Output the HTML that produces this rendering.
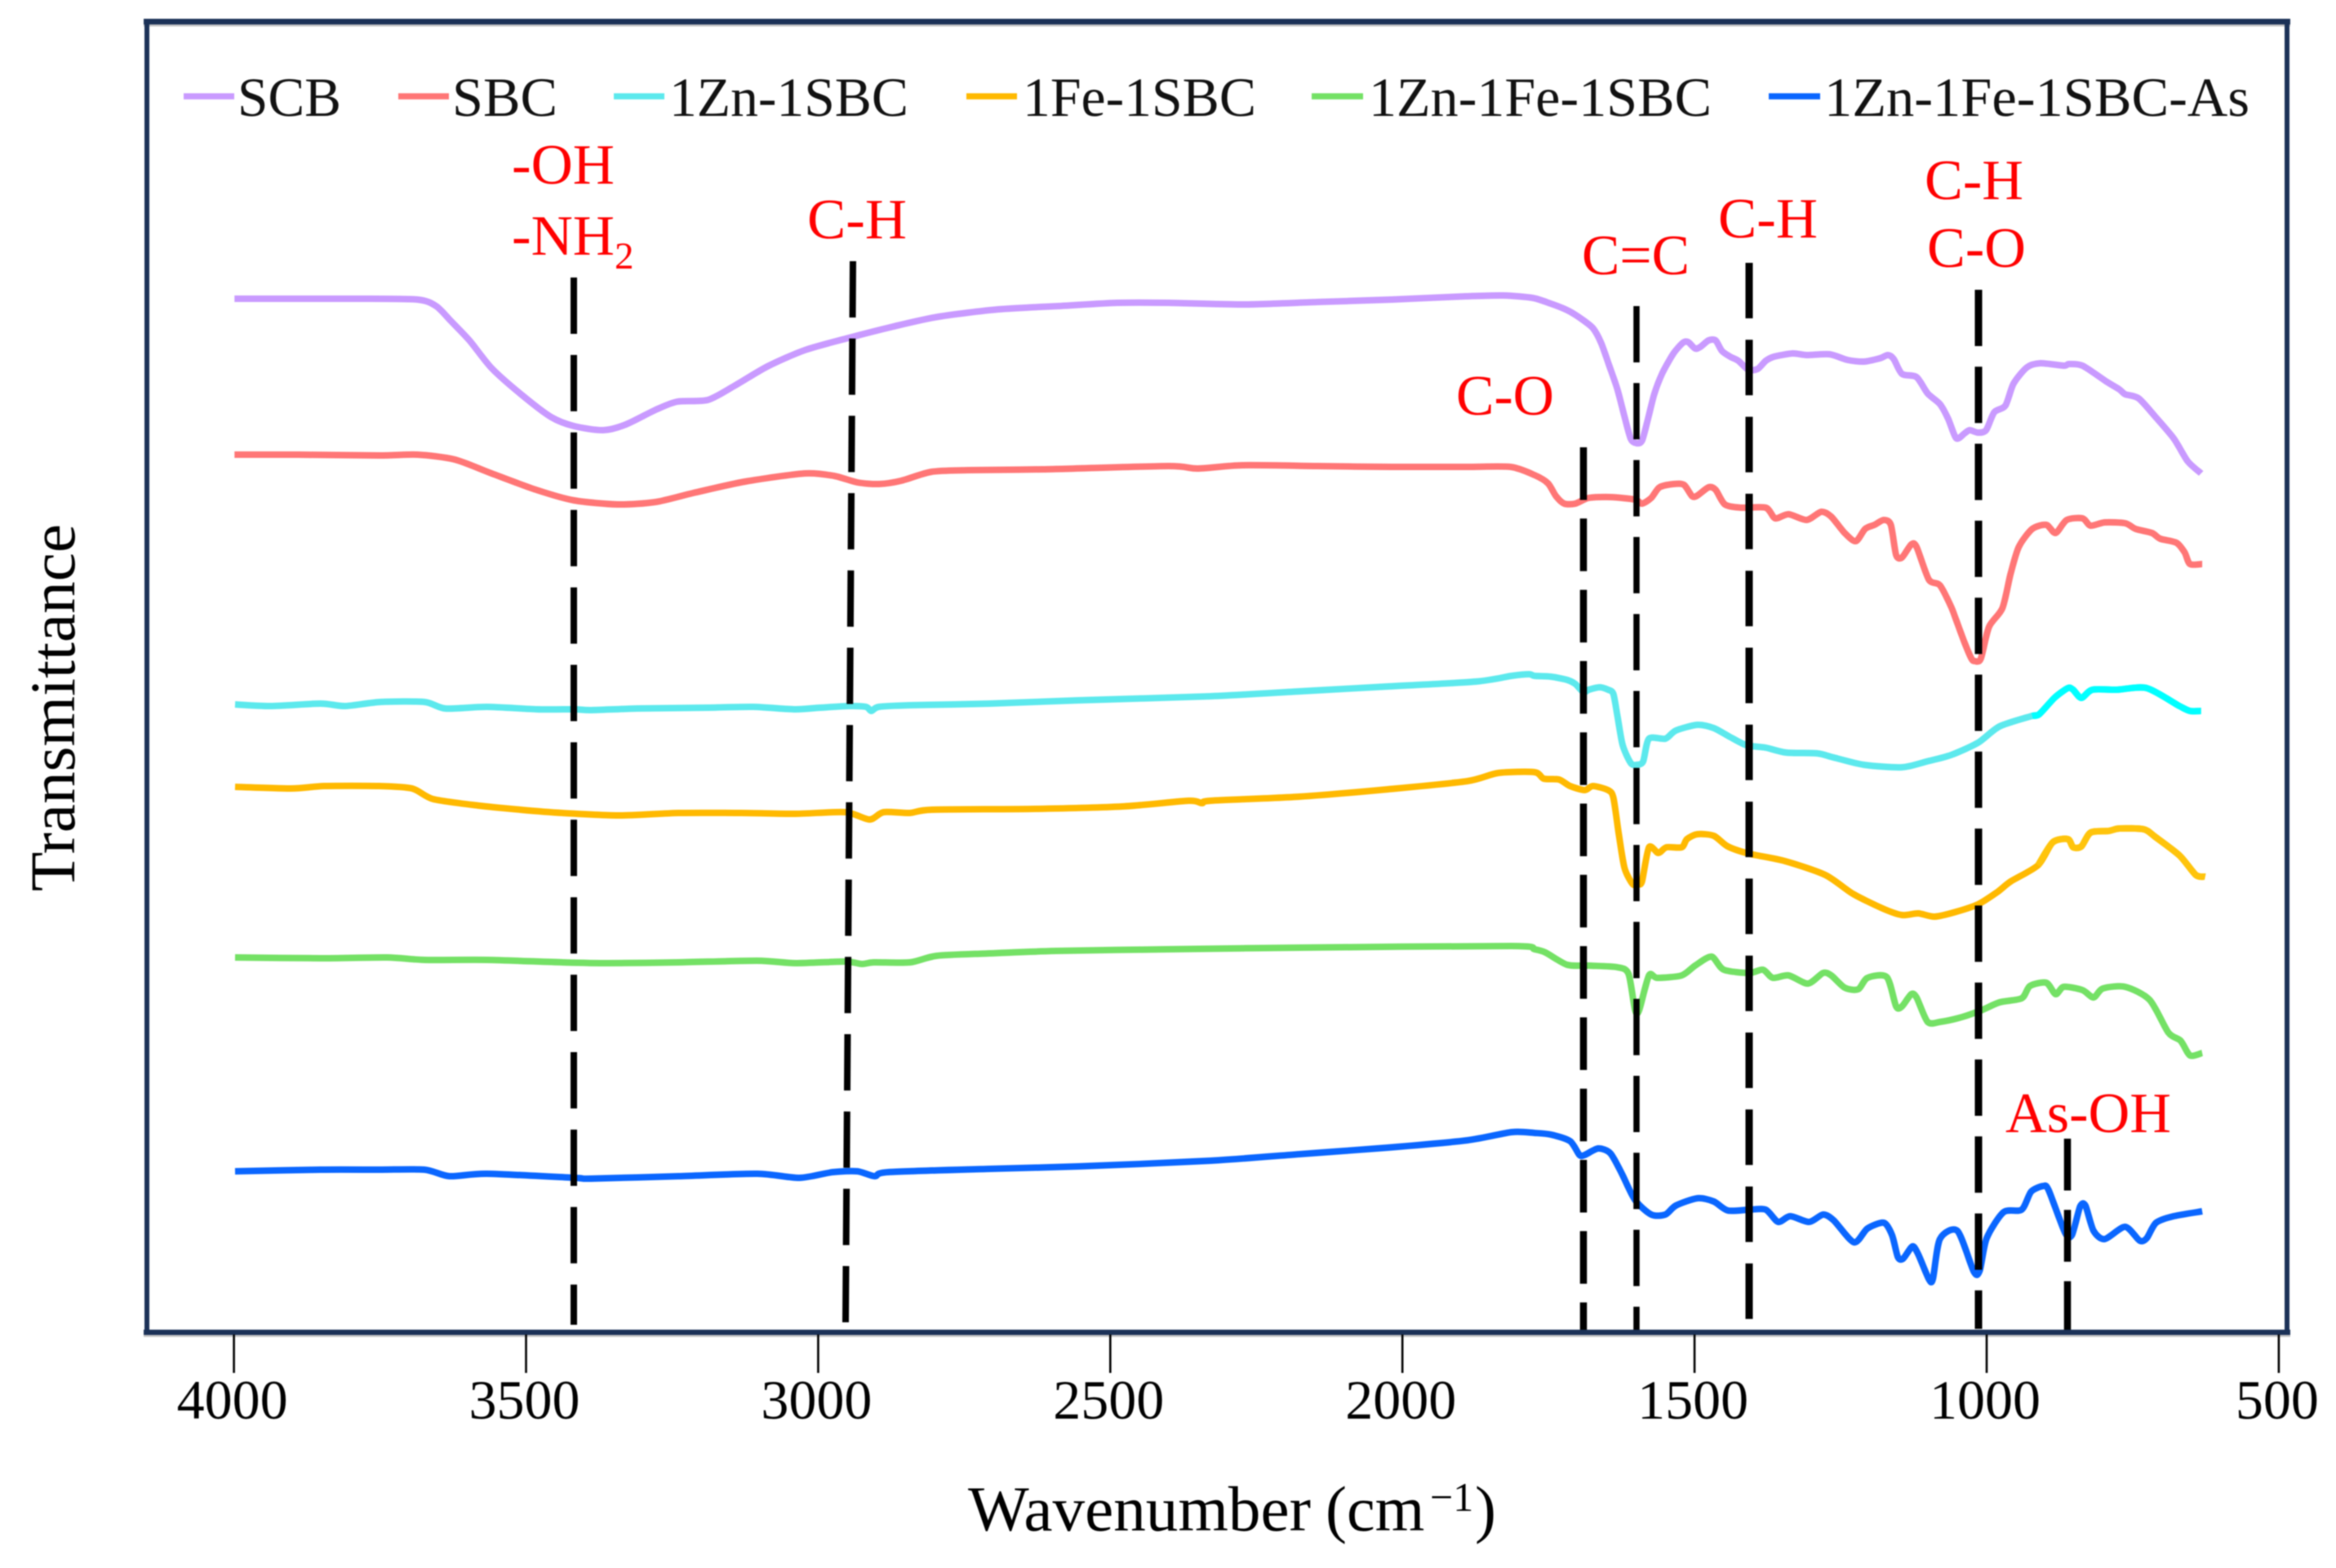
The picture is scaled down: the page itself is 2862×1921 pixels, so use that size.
<!DOCTYPE html>
<html lang="en">
<head>
<meta charset="utf-8">
<title>FTIR spectra of SCB and SBC composites</title>
<style>
  html, body { margin: 0; padding: 0; background: #ffffff; }
  svg { display: block; filter: blur(0.7px); }
  text { font-family: "Liberation Serif", "Times New Roman", serif; }
  .red { fill: #ff0000; font-size: 70px; }
  .leg { fill: #111111; font-size: 68px; }
</style>
</head>
<body>
<svg id="chart" xmlns="http://www.w3.org/2000/svg" width="2862" height="1921" viewBox="0 0 2862 1921">
  <rect x="0" y="0" width="2862" height="1921" fill="#ffffff"/>

  <g id="series-layer" fill="none" stroke-linejoin="round" stroke-linecap="butt"></g>

  <g stroke="#000000" fill="none">
    <line x1="703" y1="340" x2="703" y2="1623" stroke-width="8" stroke-dasharray="69 25.9"/>
    <line x1="1045" y1="320" x2="1036" y2="1620" stroke-width="8" stroke-dasharray="69 25.7"/>
    <line x1="1940" y1="548" x2="1940" y2="1633" stroke-width="8.5" stroke-dasharray="64.5 22.8"/>
    <line x1="2005" y1="375" x2="2005" y2="1633" stroke-width="7.5" stroke-dasharray="69 25.3"/>
    <line x1="2143" y1="322" x2="2143" y2="1620" stroke-width="9" stroke-dasharray="68 26.3"/>
    <line x1="2424" y1="355" x2="2424" y2="1628" stroke-width="9" stroke-dasharray="69 25.3"/>
    <line x1="2533" y1="1395" x2="2533" y2="1633" stroke-width="8.5" stroke-dasharray="63.5 23.8"/>
  </g>

  <g>
    <rect x="176" y="30" width="2630" height="2.5" fill="#c8c8c8"/>
    <rect x="176" y="1635" width="2630" height="3" fill="#c8c8c8"/>
    <rect x="176" y="23" width="2630" height="7" fill="#1b3157"/>
    <rect x="177" y="23" width="6" height="1612" fill="#1b3157"/>
    <rect x="2799" y="23" width="6" height="1612" fill="#1b3157"/>
    <rect x="176" y="1629" width="2630" height="6.5" fill="#1b3157"/>
  </g>

  <g id="axis-layer"></g>

  <g>
    <g>
      <line x1="225" y1="118" x2="287" y2="118" stroke="#c99aff" stroke-width="7.5"/>
      <text class="leg" x="291" y="142" textLength="127" lengthAdjust="spacingAndGlyphs">SCB</text>
    </g>
    <g>
      <line x1="488" y1="118" x2="550" y2="118" stroke="#ff7676" stroke-width="7.5"/>
      <text class="leg" x="554" y="142" textLength="129" lengthAdjust="spacingAndGlyphs">SBC</text>
    </g>
    <g>
      <line x1="752" y1="118" x2="814" y2="118" stroke="#5ce9ed" stroke-width="7.5"/>
      <text class="leg" x="820" y="142" textLength="293" lengthAdjust="spacingAndGlyphs">1Zn-1SBC</text>
    </g>
    <g>
      <line x1="1184" y1="118" x2="1246" y2="118" stroke="#ffb900" stroke-width="7.5"/>
      <text class="leg" x="1253" y="142" textLength="286" lengthAdjust="spacingAndGlyphs">1Fe-1SBC</text>
    </g>
    <g>
      <line x1="1607" y1="118" x2="1670" y2="118" stroke="#74e165" stroke-width="7.5"/>
      <text class="leg" x="1677" y="142" textLength="420" lengthAdjust="spacingAndGlyphs">1Zn-1Fe-1SBC</text>
    </g>
    <g>
      <line x1="2167" y1="118" x2="2230" y2="118" stroke="#0a66ff" stroke-width="7.5"/>
      <text class="leg" x="2235" y="142" textLength="521" lengthAdjust="spacingAndGlyphs">1Zn-1Fe-1SBC-As</text>
    </g>
  </g>

  <g>
    <text class="red" x="627" y="225" textLength="126" lengthAdjust="spacingAndGlyphs">-OH</text>
    <text class="red" x="627" y="312" textLength="126" lengthAdjust="spacingAndGlyphs">-NH</text>
    <text class="red" x="753" y="329" style="font-size:47px">2</text>
    <text class="red" x="989" y="292" textLength="122" lengthAdjust="spacingAndGlyphs">C-H</text>
    <text class="red" x="1784" y="508" textLength="120" lengthAdjust="spacingAndGlyphs">C-O</text>
    <text class="red" x="1938" y="336" textLength="132" lengthAdjust="spacingAndGlyphs">C=C</text>
    <text class="red" x="2105" y="291" textLength="122" lengthAdjust="spacingAndGlyphs">C-H</text>
    <text class="red" x="2358" y="244" textLength="121" lengthAdjust="spacingAndGlyphs">C-H</text>
    <text class="red" x="2361" y="327" textLength="121" lengthAdjust="spacingAndGlyphs">C-O</text>
    <text class="red" x="2457" y="1387" textLength="203" lengthAdjust="spacingAndGlyphs">As-OH</text>
  </g>

  <text transform="translate(91,1092) rotate(-90)" x="0" y="0" font-size="78" fill="#000000" textLength="450" lengthAdjust="spacingAndGlyphs">Transmittance</text>

  <text y="1875" font-size="78" fill="#000000"><tspan x="1186" textLength="420" lengthAdjust="spacingAndGlyphs">Wavenumber</tspan><tspan x="1624">(cm</tspan><tspan x="1752" dy="-24" font-size="50">−1</tspan><tspan x="1807" dy="24">)</tspan></text>
</svg>

<script>
// X axis ticks
const tickValues = [4000, 3500, 3000, 2500, 2000, 1500, 1000, 500];
const tickLabels = ["4000", "3500", "3000", "2500", "2000", "1500", "1000", "500"];

// SCB
const scbWavenumber = [
  3999,3890,3788,3686,3654,3629,3597,3559,3507,3457,
  3418,3368,3329,3278,3241,3189,3144,3087,3023,2948,
  2871,2794,2692,2590,2488,2401,2274,2146,2018,1891,
  1827,1777,
  1746,1718,1695,1674,1660,1646,1632,1620,1609,1599,
  1590,1581,1569,1555,1536,1520,1511,1499,1490,1476,
  1464,1453,1439,1425,1408,1392,1378,1364,1332,1308,
  1269,1238,1210,1183,1169,1159,1145,1120,1101,1080,
  1066,1052,
  1038,1029,1015,1001,987,968,954,931,908,868,
  859,836,796,773,763,740,712,680,656,633
];
const scbTransmittance = [
  1262,1262,1262,1261,1253,1235,1211,1177,1144,1117,
  1106,1101,1108,1126,1136,1138,1155,1179,1199,1214,
  1228,1240,1249,1253,1257,1257,1255,1258,1261,1265,
  1266,1263,
  1256,1248,1238,1226,1208,1180,1151,1118,1090,1085,
  1088,1111,1145,1171,1195,1208,1209,1201,1203,1211,
  1211,1198,1191,1186,1175,1176,1186,1191,1195,1193,
  1194,1187,1185,1189,1193,1188,1170,1166,1146,1133,
  1115,1091,
  1097,1101,1098,1101,1123,1131,1158,1178,1183,1180,
  1182,1180,1161,1151,1145,1140,1118,1091,1063,1048
];

// SBC
const sbcWavenumber = [
  3999,3890,3751,3686,3622,3559,3483,3418,3343,3278,
  3214,3125,3023,2973,2933,2896,2858,2806,2743,2615,
  2401,2351,2274,2146,2018,1891,1815,
  1774,1751,1737,1723,1704,1681,1644,1602,1590,1574,
  1560,1536,1518,1504,1495,1476,1464,1448,1420,1378,
  1362,1339,1308,1283,1266,1243,1224,1208,1192,1176,
  1164,1155,1145,1129,1120,1099,1080,1061,
  1052,1038,1026,1020,1010,996,973,959,945,922,
  898,882,863,836,822,798,763,745,717,703,
  675,661,652,631
];
const sbcTransmittance = [
  1071,1071,1070,1071,1065,1048,1028,1015,1010,1013,
  1024,1038,1048,1045,1037,1035,1039,1050,1052,1053,
  1057,1054,1058,1057,1056,1056,1056,
  1046,1036,1020,1011,1011,1018,1019,1016,1011,1018,
  1031,1035,1034,1020,1021,1031,1028,1010,1006,1006,
  993,998,991,1001,995,975,965,980,985,991,
  985,948,945,961,958,918,911,885,
  868,841,821,818,821,860,883,925,958,980,
  985,975,991,993,984,988,987,980,975,968,
  963,951,937,937
];

// 1Zn-1SBC
const znWavenumber = [
  3998,3937,3852,3809,3749,3674,3638,3567,3481,3417,
  3389,3310,3189,3111,3039,2997,2947,2918,2909,2896,
  2843,2706,2555,2328,2176,2025,1874,1813,1783,
  1774,1746,1718,1704,1690,1681,1662,1648,1639,1632,
  1623,1609,1599,1588,1578,1550,1532,1495,1467,1439,
  1411,1378,1343,1290,1262,1210,1145,1103,1061,1015,
  978,922,910,884,861,852,838,819,777,726,
  670,652,633
];
const znTransmittance = [
  765,763,766,763,768,768,760,762,759,759,
  758,760,761,762,759,761,763,762,757,762,
  764,766,770,775,781,787,793,800,802,
  800,799,795,790,780,783,786,783,778,751,
  715,693,691,695,723,723,733,740,736,725,
  715,712,706,705,700,691,688,695,703,718,
  738,751,753,773,785,783,773,783,783,785,
  763,757,757
];

// 1Fe-1SBC
const feWavenumber = [
  3998,3902,3845,3752,3695,3659,3581,3510,3438,3339,
  3239,3132,3039,2954,2912,2888,2843,2805,2631,2479,
  2366,2343,2328,2176,2025,1889,1836,
  1774,1758,1732,1713,1688,1674,1648,1639,1630,1620,
  1606,1597,1590,1578,1562,1548,1522,1513,1495,1467,
  1443,1406,1345,1276,1229,1178,1145,1117,1089,1052,
  1015,982,959,912,887,861,852,838,822,791,
  773,731,712,670,642,626
];
const feTransmittance = [
  664,662,665,665,662,649,641,636,632,629,
  632,632,631,633,624,633,632,636,637,640,
  647,644,647,652,661,671,681,
  682,674,673,665,660,665,660,651,608,565,
  545,545,548,590,583,590,590,600,606,604,
  591,582,573,556,533,515,507,509,505,511,
  520,535,548,568,596,600,590,591,608,610,
  613,612,603,580,556,554
];

// 1Zn-1Fe-1SBC
const znFeWavenumber = [
  3998,3852,3738,3674,3567,3438,3360,3239,3104,3039,
  2954,2925,2905,2843,2797,2706,2593,2404,2176,1813,
  1774,1755,1718,1681,1632,1613,1602,1595,1578,1564,
  1522,1499,1471,1450,1406,1383,1366,1339,1306,1280,
  1266,1243,1220,1204,1171,1155,1145,1129,1120,1101,
  1080,1047,1010,978,940,926,898,882,868,836,
  817,801,763,721,689,668,652,631
];
const znFeTransmittance = [
  455,454,455,452,452,449,448,449,451,448,
  450,447,449,449,457,460,463,465,467,469,
  465,461,446,445,443,435,391,390,433,430,
  433,445,456,440,436,440,430,433,423,436,
  433,418,416,430,431,395,395,410,406,376,
  376,381,390,400,405,420,424,410,419,415,
  406,417,419,403,363,353,335,338
];

// 1Zn-1Fe-1SBC-As
const znFeAsWavenumber = [
  3998,3852,3752,3674,3631,3567,3417,3389,3239,3104,
  3032,2975,2933,2903,2880,2706,2555,2328,2176,2025,
  1889,1813,
  1774,1746,1713,1697,1688,1665,1644,1625,1602,1574,
  1550,1532,1495,1467,1443,1406,1378,1357,1336,1304,
  1280,1262,1227,1204,1176,1162,1152,1143,1127,1117,
  1099,1092,1080,1050,1022,1012,1000,971,940,924,
  903,894,866,854,840,831,817,798,763,738,
  726,710,680,631
];
const znFeAsTransmittance = [
  193,195,195,195,187,190,185,184,187,190,
  185,192,193,187,192,196,199,206,214,222,
  231,241,
  240,238,230,213,213,221,215,191,158,140,
  140,151,160,156,145,146,146,131,138,131,
  140,133,106,123,130,115,88,86,101,91,
  61,61,110,120,70,71,111,143,146,168,
  175,170,118,115,150,151,120,110,125,108,
  111,130,138,144
];

const SVG_NS = "http://www.w3.org/2000/svg";

// Axis functions
function xScale(wavenumber) {
  return 286.6 + (4000 - wavenumber) * 0.7158;
}
function yScale(transmittance) {
  return 1628 - transmittance;
}

// Smooth curve through the read points (Catmull-Rom converted to cubic Beziers)
function buildPath(wavenumbers, values, maxWavenumber) {
  const pts = [];
  for (let i = 0; i < wavenumbers.length; i++) {
    if (wavenumbers[i] > maxWavenumber) continue;
    pts.push([xScale(wavenumbers[i]), yScale(values[i])]);
  }
  const k = 0.13;
  let d = "M" + pts[0][0].toFixed(1) + " " + pts[0][1].toFixed(1) + " ";
  for (let i = 0; i < pts.length - 1; i++) {
    const p0 = pts[Math.max(i - 1, 0)];
    const p1 = pts[i];
    const p2 = pts[i + 1];
    const p3 = pts[Math.min(i + 2, pts.length - 1)];
    const c1x = p1[0] + (p2[0] - p0[0]) * k;
    const c1y = p1[1] + (p2[1] - p0[1]) * k;
    const c2x = p2[0] - (p3[0] - p1[0]) * k;
    const c2y = p2[1] - (p3[1] - p1[1]) * k;
    d += "C" + c1x.toFixed(1) + " " + c1y.toFixed(1) + " " + c2x.toFixed(1) + " " + c2y.toFixed(1) + " " + p2[0].toFixed(1) + " " + p2[1].toFixed(1) + " ";
  }
  return d;
}

function drawSeries(name, wavenumbers, values, color) {
  const layer = document.getElementById("series-layer");
  const path = document.createElementNS(SVG_NS, "path");
  path.setAttribute("d", buildPath(wavenumbers, values, 99999));
  path.setAttribute("stroke", color);
  path.setAttribute("stroke-width", "8");
  
  
  layer.appendChild(path);
}

function drawSeriesTail(name, wavenumbers, values, color, maxWavenumber) {
  const layer = document.getElementById("series-layer");
  const path = document.createElementNS(SVG_NS, "path");
  path.setAttribute("d", buildPath(wavenumbers, values, maxWavenumber));
  path.setAttribute("stroke", color);
  path.setAttribute("stroke-width", "8");
  
  
  layer.appendChild(path);
}

drawSeries("series-scb", scbWavenumber, scbTransmittance, "#c99aff");
drawSeries("series-sbc", sbcWavenumber, sbcTransmittance, "#ff7676");
drawSeries("series-1zn-1sbc", znWavenumber, znTransmittance, "#5ce9ed");
drawSeriesTail("series-1zn-1sbc-tail", znWavenumber, znTransmittance, "#00ffff", 925);
drawSeries("series-1fe-1sbc", feWavenumber, feTransmittance, "#ffb900");
drawSeriesTail("series-1fe-1sbc-tail", feWavenumber, feTransmittance, "#ffc40c", 915);
drawSeries("series-1zn-1fe-1sbc", znFeWavenumber, znFeTransmittance, "#74e165");
drawSeries("series-1zn-1fe-1sbc-as", znFeAsWavenumber, znFeAsTransmittance, "#0a66ff");

const axisLayer = document.getElementById("axis-layer");
for (let i = 0; i < tickValues.length; i++) {
  const tx = xScale(tickValues[i]);

  const tick = document.createElementNS(SVG_NS, "line");
  tick.setAttribute("x1", tx.toFixed(1));
  tick.setAttribute("x2", tx.toFixed(1));
  tick.setAttribute("y1", "1635");
  tick.setAttribute("y2", "1682");
  tick.setAttribute("stroke", "#000000");
  tick.setAttribute("stroke-width", "2.6");
  
  
  axisLayer.appendChild(tick);

  const label = document.createElementNS(SVG_NS, "text");
  label.setAttribute("x", (tx - 2).toFixed(1));
  label.setAttribute("y", "1738");
  label.setAttribute("text-anchor", "middle");
  label.setAttribute("font-size", "68");
  label.setAttribute("fill", "#000000");
  
  
  label.textContent = tickLabels[i];
  axisLayer.appendChild(label);
}
</script>
</body>
</html>
